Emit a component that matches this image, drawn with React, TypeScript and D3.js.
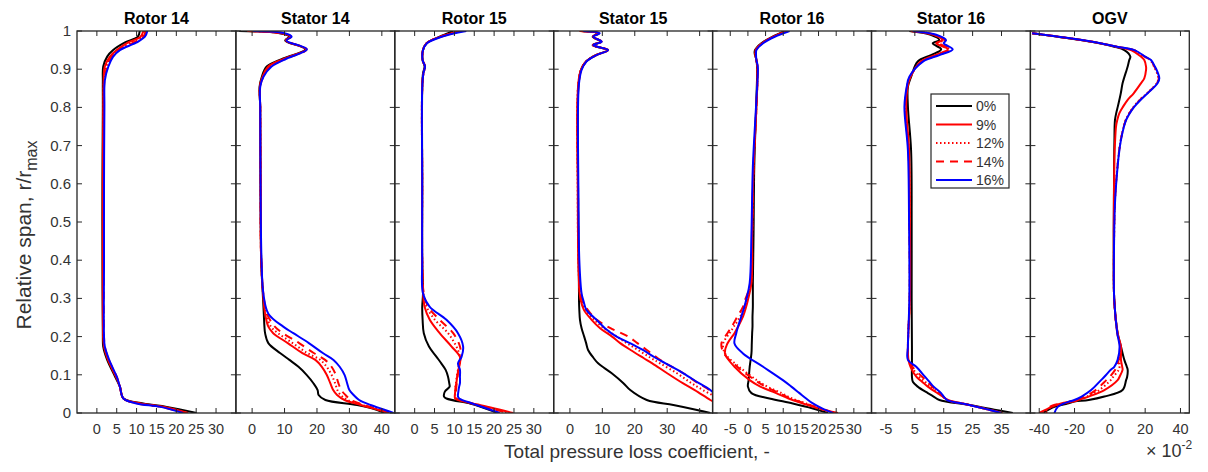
import React from 'react';
import * as d3 from 'd3';

// ---------- labels ----------
const panelTitles = ['Rotor 14', 'Stator 14', 'Rotor 15', 'Stator 15', 'Rotor 16', 'Stator 16', 'OGV'];
const seriesNames = ['0%', '9%', '12%', '14%', '16%'];
const xDomains: [number, number][] = [[-5, 35], [-5, 44], [-5, 35], [-5, 44], [-10, 35], [-10, 45], [-45, 45]];
const xTickValues = [
  [0, 5, 10, 15, 20, 25, 30],
  [0, 10, 20, 30, 40],
  [0, 5, 10, 15, 20, 25, 30],
  [0, 10, 20, 30, 40],
  [-5, 0, 5, 10, 15, 20, 25, 30],
  [-5, 5, 15, 25, 35],
  [-40, -20, 0, 20, 40],
];
const yTickValues = [0, 0.1, 0.2, 0.3, 0.4, 0.5, 0.6, 0.7, 0.8, 0.9, 1];
const yTickLabels = ['0', '0.1', '0.2', '0.3', '0.4', '0.5', '0.6', '0.7', '0.8', '0.9', '1'];

// ---------- data (loss coefficient x 10^-2 vs relative span) ----------
const rotor14Span = [1.0, 0.985, 0.97, 0.95, 0.933, 0.907, 0.87, 0.8, 0.6, 0.4, 0.2, 0.174, 0.139, 0.095, 0.069, 0.038, 0.025, 0.016, 0.0];
const rotor14_0 = [10.8, 10.3, 7.1, 4.1, 2.6, 1.6, 1.5, 1.5, 1.4, 1.4, 1.5, 1.6, 2.6, 4.6, 5.8, 6.7, 11.7, 17.6, 25.1];
const rotor14_9 = [11.7, 11.0, 7.9, 5.0, 3.3, 2.0, 1.7, 1.6, 1.5, 1.5, 1.6, 1.8, 2.8, 4.8, 5.8, 6.7, 11.0, 17.0, 23.0];
const rotor14_12 = [12.0, 11.4, 8.6, 5.3, 3.6, 2.4, 1.8, 1.7, 1.6, 1.6, 1.7, 1.9, 3.0, 4.9, 5.8, 6.7, 10.5, 16.5, 22.5];
const rotor14_14 = [12.3, 11.7, 9.3, 5.5, 3.8, 2.6, 1.9, 1.8, 1.7, 1.7, 1.8, 2.0, 3.0, 5.0, 5.8, 6.7, 10.3, 16.2, 22.0];
const rotor14_16 = [12.7, 12.1, 10.0, 5.8, 4.1, 2.9, 2.0, 1.9, 1.8, 1.8, 1.8, 2.0, 3.1, 5.0, 5.8, 6.7, 10.0, 16.0, 21.7];

const stator14Span = [1.0, 0.994, 0.985, 0.975, 0.952, 0.928, 0.907, 0.88, 0.854, 0.8, 0.6, 0.4, 0.31, 0.26, 0.226, 0.209, 0.183, 0.157, 0.139, 0.121, 0.1, 0.078, 0.06, 0.047, 0.034, 0.021, 0.008, 0.0];
const stator14_0 = [-4.0, 8.5, 11.5, 10.2, 16.4, 9.6, 4.5, 3.0, 2.3, 2.5, 2.6, 2.8, 3.3, 3.6, 3.8, 4.0, 5.0, 8.6, 11.5, 14.3, 16.8, 18.9, 20.2, 20.5, 22.6, 32.4, 38.6, 40.8];
const stator14_9 = [-1.0, 9.0, 11.8, 10.4, 16.6, 10.1, 5.0, 3.2, 2.4, 2.5, 2.6, 2.8, 3.4, 4.0, 5.0, 6.5, 11.0, 15.5, 19.5, 21.5, 23.0, 24.1, 25.0, 26.2, 28.5, 33.5, 39.0, 42.2];
const stator14_12 = [-1.5, 9.2, 11.9, 10.5, 16.7, 10.3, 5.3, 3.3, 2.4, 2.5, 2.6, 2.8, 3.4, 4.3, 5.8, 8.0, 12.5, 17.0, 21.0, 23.0, 24.5, 25.6, 26.3, 27.3, 29.5, 34.0, 39.5, 42.5];
const stator14_14 = [-1.2, 9.5, 12.0, 10.5, 16.8, 10.5, 5.6, 3.4, 2.5, 2.5, 2.6, 2.8, 3.5, 4.6, 7.0, 9.5, 14.5, 19.0, 22.5, 24.5, 25.8, 26.6, 27.5, 28.8, 30.5, 34.5, 40.0, 42.8];
const stator14_16 = [0.3, 10.0, 12.2, 10.6, 16.9, 10.7, 6.0, 3.5, 2.5, 2.5, 2.6, 2.9, 3.5, 5.0, 9.6, 12.7, 17.5, 21.8, 25.1, 27.0, 28.5, 29.3, 30.0, 31.3, 33.0, 36.5, 41.0, 43.6];

const rotor15Span = [1.0, 0.985, 0.968, 0.95, 0.924, 0.907, 0.889, 0.85, 0.6, 0.4, 0.313, 0.278, 0.244, 0.209, 0.174, 0.147, 0.13, 0.113, 0.095, 0.078, 0.069, 0.056, 0.043, 0.038, 0.025, 0.021, 0.0];
const rotor15_0 = [9.7, 6.3, 3.0, 2.1, 2.0, 2.5, 2.1, 1.9, 1.9, 1.9, 2.1, 1.9, 2.0, 2.3, 3.6, 5.5, 6.7, 7.8, 8.4, 8.7, 8.8, 7.6, 7.4, 8.0, 13.9, 15.3, 21.0];
const rotor15_9 = [11.5, 6.5, 3.0, 2.1, 2.0, 2.6, 2.2, 1.9, 1.9, 1.9, 2.1, 2.5, 3.8, 6.3, 9.3, 11.4, 11.4, 11.0, 10.7, 10.5, 10.3, 10.2, 10.1, 10.2, 14.5, 16.4, 24.8];
const rotor15_12 = [11.5, 6.5, 3.0, 2.1, 2.0, 2.6, 2.2, 1.9, 1.9, 1.9, 2.2, 3.0, 5.1, 8.4, 10.5, 11.4, 11.2, 10.9, 10.6, 10.4, 10.3, 10.2, 10.2, 10.3, 14.5, 16.0, 24.0];
const rotor15_14 = [11.8, 6.5, 3.0, 2.1, 2.0, 2.6, 2.2, 1.9, 1.9, 1.9, 2.3, 3.4, 6.3, 9.7, 11.4, 11.6, 11.3, 11.0, 10.8, 10.6, 10.5, 10.4, 10.4, 10.5, 14.5, 15.8, 23.5];
const rotor15_16 = [13.0, 6.8, 3.1, 2.1, 2.0, 2.6, 2.2, 1.9, 1.9, 1.9, 2.1, 3.8, 8.0, 10.9, 12.2, 11.8, 10.9, 11.4, 11.4, 11.4, 11.2, 11.0, 10.9, 11.2, 14.5, 15.6, 21.4];

const stator15Span = [1.0, 0.994, 0.985, 0.972, 0.963, 0.95, 0.937, 0.92, 0.898, 0.863, 0.8, 0.6, 0.4, 0.313, 0.296, 0.27, 0.244, 0.222, 0.2, 0.183, 0.165, 0.144, 0.13, 0.104, 0.078, 0.06, 0.034, 0.021, 0.008, 0.0];
const stator15_0 = [3.5, 8.5, 7.0, 9.6, 7.0, 11.6, 8.0, 5.0, 3.4, 2.7, 2.4, 2.5, 2.7, 2.8, 2.8, 2.9, 3.1, 3.6, 4.4, 5.0, 5.6, 7.3, 8.7, 12.9, 16.5, 18.6, 23.7, 31.9, 39.2, 43.3];
const stator15_9 = [3.0, 8.8, 7.1, 9.7, 7.1, 11.7, 8.1, 5.0, 3.4, 2.6, 2.3, 2.4, 2.6, 3.0, 3.3, 4.3, 6.7, 9.3, 13.0, 15.5, 18.7, 22.7, 25.4, 30.0, 34.8, 38.5, 43.3, 46, 46, 46];
const stator15_12 = [3.0, 8.8, 7.1, 9.7, 7.1, 11.7, 8.1, 5.0, 3.4, 2.6, 2.3, 2.4, 2.6, 3.1, 3.5, 4.8, 7.5, 10.5, 14.5, 17.5, 21.0, 25.0, 27.8, 33.0, 37.5, 41.0, 46, 46, 46, 46];
const stator15_14 = [3.2, 9.0, 7.2, 9.8, 7.2, 11.8, 8.2, 5.0, 3.5, 2.7, 2.4, 2.5, 2.7, 3.2, 3.8, 5.5, 8.3, 12.5, 18.0, 20.8, 23.7, 27.0, 29.5, 35.0, 39.5, 43.0, 46, 46, 46, 46];
const stator15_16 = [4.1, 9.2, 7.2, 9.8, 7.2, 11.8, 8.2, 5.1, 3.6, 2.8, 2.5, 2.6, 2.9, 3.6, 4.1, 5.1, 8.2, 10.8, 14.4, 18.5, 22.5, 26.5, 29.5, 35.0, 39.8, 43.3, 46, 46, 46, 46];

const rotor16Span = [1.0, 0.985, 0.968, 0.95, 0.942, 0.924, 0.907, 0.82, 0.645, 0.47, 0.34, 0.296, 0.278, 0.252, 0.226, 0.209, 0.182, 0.156, 0.121, 0.086, 0.069, 0.052, 0.038, 0.025, 0.012, 0.0];
const rotor16_0 = [10.4, 7.0, 3.8, 2.0, 1.9, 2.4, 2.6, 2.4, 1.8, 1.6, 1.4, 1.4, 1.4, 1.3, 1.3, 1.2, 1.1, 1.0, 0.5, 0.2, 0.0, 1.0, 6.1, 12.7, 18.4, 22.7];
const rotor16_9 = [11.0, 7.2, 4.0, 2.2, 2.1, 2.4, 2.7, 2.5, 1.6, 1.2, 1.0, 0.0, -0.5, -1.4, -2.8, -3.8, -5.8, -6.5, -3.8, 0.5, 3.5, 8.0, 11.5, 15.6, 20.0, 25.5];
const rotor16_12 = [11.0, 7.2, 4.0, 2.2, 2.1, 2.4, 2.7, 2.5, 1.6, 1.2, 0.9, -0.3, -1.0, -2.2, -4.0, -5.2, -7.0, -6.5, -2.5, 2.5, 5.5, 9.5, 12.5, 16.5, 20.5, 25.0];
const rotor16_14 = [11.0, 7.2, 4.0, 2.2, 2.1, 2.4, 2.7, 2.5, 1.6, 1.2, 0.8, -0.8, -1.4, -3.0, -4.6, -5.8, -7.5, -6.8, -3.0, 2.0, 5.0, 9.0, 12.0, 16.2, 20.3, 25.0];
const rotor16_16 = [11.8, 7.6, 4.3, 2.4, 2.3, 2.4, 2.8, 2.4, 1.4, 1.0, 0.5, -0.5, -1.0, -1.9, -2.8, -3.3, -3.8, -1.4, 4.3, 9.9, 12.3, 14.6, 16.5, 18.4, 21.0, 24.1];

const stator16Span = [1.0, 0.99, 0.976, 0.968, 0.952, 0.937, 0.92, 0.88, 0.854, 0.802, 0.688, 0.5, 0.3, 0.174, 0.139, 0.121, 0.095, 0.082, 0.069, 0.052, 0.043, 0.034, 0.021, 0.008, 0.0];
const stator16_0 = [3.1, 10.5, 13.5, 11.2, 14.1, 10.6, 6.0, 3.7, 2.6, 2.6, 3.7, 3.9, 3.9, 4.0, 4.0, 4.0, 4.0, 4.3, 6.0, 9.5, 11.5, 13.5, 23.9, 33.1, 38.9];
const stator16_9 = [3.5, 11.5, 14.5, 12.4, 16.4, 12.0, 7.0, 3.5, 2.5, 2.0, 3.0, 3.3, 3.3, 2.6, 2.8, 3.5, 5.5, 7.5, 9.5, 12.8, 14.7, 16.5, 23.9, 31.0, 35.4];
const stator16_12 = [3.8, 11.8, 15.0, 13.0, 17.0, 12.5, 7.3, 3.4, 2.4, 1.8, 2.9, 3.2, 3.2, 2.6, 2.8, 3.8, 6.5, 8.5, 10.5, 13.3, 14.7, 16.3, 23.9, 31.0, 35.2];
const stator16_14 = [4.0, 12.0, 15.3, 13.5, 17.5, 13.0, 7.5, 3.3, 2.3, 1.6, 2.8, 3.1, 3.2, 2.6, 2.8, 4.2, 7.5, 9.5, 11.0, 13.7, 14.7, 16.2, 23.9, 31.0, 35.0];
const stator16_16 = [4.3, 12.4, 15.8, 15.0, 18.1, 13.5, 7.8, 3.1, 2.2, 1.4, 2.6, 3.0, 3.1, 2.6, 2.6, 5.5, 8.5, 10.0, 11.5, 14.1, 15.0, 16.2, 23.9, 31.0, 34.9];

const ogvSpan = [0.994, 0.985, 0.972, 0.959, 0.95, 0.933, 0.924, 0.907, 0.898, 0.876, 0.863, 0.837, 0.82, 0.802, 0.785, 0.767, 0.75, 0.715, 0.688, 0.645, 0.558, 0.4, 0.296, 0.209, 0.174, 0.139, 0.121, 0.113, 0.095, 0.086, 0.06, 0.043, 0.034, 0.03, 0.025, 0.016, 0.0];
const ogv_0 = [-44, -29.5, -10.6, 2.5, 8.2, 11.6, 11.0, 10.1, 9.5, 8.0, 7.2, 6.2, 5.4, 4.5, 3.6, 2.9, 2.7, 2.6, 2.5, 2.4, 2.3, 2.2, 2.5, 4.4, 6.3, 8.2, 9.6, 10.1, 9.8, 9.2, 7.2, -3.1, -12, -20.1, -24, -31.4, -38];
const ogv_9 = [-44, -29, -10, 3.5, 12, 17.6, 19.5, 20.5, 20.5, 19.5, 17.6, 13.5, 10.1, 7.5, 5.4, 4.2, 3.5, 3.0, 2.7, 2.5, 2.3, 2.2, 2.5, 4.4, 6.3, 6.3, 7.0, 7.2, 5.5, 4.4, -3.1, -12, -18, -21, -27.6, -33, -40];
const ogv_12 = [-44, -29, -10, 3.8, 13.5, 19.5, 22.8, 25, 26, 27.5, 26.5, 21, 17, 13.5, 11, 9, 7.8, 6.2, 5.3, 4.3, 2.9, 2.3, 2.5, 4.3, 6.0, 5.5, 5.5, 5.0, 2.0, 0.5, -6, -13, -18, -21, -26, -33, -38];
const ogv_14 = [-44, -29, -10, 3.9, 13.7, 19.7, 23, 25.2, 26.2, 27.7, 26.7, 21.2, 17.2, 13.7, 11.1, 9.1, 7.9, 6.2, 5.3, 4.3, 2.9, 2.3, 2.5, 4.2, 5.8, 5.0, 4.0, 3.0, 0.0, -2, -8, -14, -19, -22, -27, -34, -36];
const ogv_16 = [-44, -29, -10, 4, 13.9, 20, 23.3, 25.5, 26.5, 28, 27, 21.4, 17.5, 13.9, 11.3, 9.2, 8.0, 6.3, 5.4, 4.4, 3.0, 2.3, 2.5, 4.2, 5.5, 4.4, 2.5, 0.5, -3.1, -5, -10.6, -16, -20.1, -23, -26, -29.5, -31.4];

// table built from the named arrays
const panelData = [
  { span: rotor14Span, series: [rotor14_0, rotor14_9, rotor14_12, rotor14_14, rotor14_16] },
  { span: stator14Span, series: [stator14_0, stator14_9, stator14_12, stator14_14, stator14_16] },
  { span: rotor15Span, series: [rotor15_0, rotor15_9, rotor15_12, rotor15_14, rotor15_16] },
  { span: stator15Span, series: [stator15_0, stator15_9, stator15_12, stator15_14, stator15_16] },
  { span: rotor16Span, series: [rotor16_0, rotor16_9, rotor16_12, rotor16_14, rotor16_16] },
  { span: stator16Span, series: [stator16_0, stator16_9, stator16_12, stator16_14, stator16_16] },
  { span: ogvSpan, series: [ogv_0, ogv_9, ogv_12, ogv_14, ogv_16] },
];

// ---------- styles ----------
const seriesColors = ['#000000', '#ff0000', '#ff0000', '#ff0000', '#0000ff'];
const seriesDash = ['none', 'none', '1.5,2.5', '8,6', 'none'];
const axisColor = '#262626';
const textColor = '#333333';
const font = "'Liberation Sans', Arial, Helvetica, sans-serif";

export default function App() {
  const W = 1208, H = 472;
  const plotTop = 31, plotBottom = 413, left0 = 77, panelW = 158.9;
  const tickLen = 5;
  const y = d3.scaleLinear().domain([0, 1]).range([plotBottom, plotTop]);

  return (
    <svg width={W} height={H} style={{ position: 'absolute', left: 0, top: 0, background: '#fff' }} fontFamily={font}>
      <rect x={0} y={0} width={W} height={H} fill="#fff" />
      <defs>
        {panelData.map((_, i) => (
          <clipPath id={`clip${i}`} key={i}>
            <rect x={left0 + i * panelW} y={plotTop} width={panelW} height={plotBottom - plotTop} />
          </clipPath>
        ))}
      </defs>
      {panelData.map((pd, i) => {
        const x0 = left0 + i * panelW;
        const x = d3.scaleLinear().domain(xDomains[i]).range([x0, x0 + panelW]);
        const line = d3
          .line<number>()
          .x((v) => x(v))
          .y((_, k) => y(pd.span[k]))
          .curve(d3.curveCatmullRom.alpha(0.5));
        return (
          <g key={i}>
            <g clipPath={`url(#clip${i})`}>
              {pd.series.map((s, j) => (
                <path
                  key={j}
                  d={line(s) || ''}
                  fill="none"
                  stroke={seriesColors[j]}
                  strokeWidth={2}
                  strokeDasharray={seriesDash[j]}
                  strokeLinejoin="round"
                />
              ))}
            </g>
            {xTickValues[i].map((t) => (
              <g key={`xt${t}`}>
                <line x1={x(t)} x2={x(t)} y1={plotBottom} y2={plotBottom - tickLen} stroke={axisColor} strokeWidth={1} />
                <line x1={x(t)} x2={x(t)} y1={plotTop} y2={plotTop + tickLen} stroke={axisColor} strokeWidth={1} />
                <text x={x(t)} y={plotBottom + 21} textAnchor="middle" fontSize={14.5} fill={textColor}>
                  {t}
                </text>
              </g>
            ))}
            {yTickValues.map((t) => (
              <g key={`yt${t}`}>
                <line x1={x0} x2={x0 + tickLen} y1={y(t)} y2={y(t)} stroke={axisColor} strokeWidth={1} />
                <line x1={x0 + panelW} x2={x0 + panelW - tickLen} y1={y(t)} y2={y(t)} stroke={axisColor} strokeWidth={1} />
              </g>
            ))}
            <rect x={x0} y={plotTop} width={panelW} height={plotBottom - plotTop} fill="none" stroke={axisColor} strokeWidth={1.3} />
            <text x={x0 + panelW / 2} y={24} textAnchor="middle" fontSize={16} fontWeight="bold" fill="#000">
              {panelTitles[i]}
            </text>
          </g>
        );
      })}
      {yTickValues.map((t, k) => (
        <text key={`yl${t}`} x={71} y={y(t) + 5} textAnchor="end" fontSize={15} fill={textColor}>
          {yTickLabels[k]}
        </text>
      ))}
      <text transform={`translate(31, 235) rotate(-90)`} textAnchor="middle" fontSize={21} fill={textColor}>
        Relative span, r/r
        <tspan dy={6} fontSize={16}>max</tspan>
      </text>
      <text x={637} y={458} textAnchor="middle" fontSize={19} fill={textColor}>
        Total pressure loss coefficient, -
      </text>
      <text x={1146} y={457} fontSize={18} fill={textColor}>
        {'\u00d7 10'}
        <tspan dy={-8} fontSize={12}>-2</tspan>
      </text>
      <g>
        <rect x={931} y={94} width={78} height={94} fill="#fff" stroke={axisColor} strokeWidth={1.2} />
        {seriesNames.map((n, j) => {
          const ly = 106 + j * 18.5;
          return (
            <g key={n}>
              <line x1={936} x2={972} y1={ly} y2={ly} stroke={seriesColors[j]} strokeWidth={2} strokeDasharray={seriesDash[j]} />
              <text x={976} y={ly + 5} fontSize={14} fill={textColor}>
                {n}
              </text>
            </g>
          );
        })}
      </g>
    </svg>
  );
}
